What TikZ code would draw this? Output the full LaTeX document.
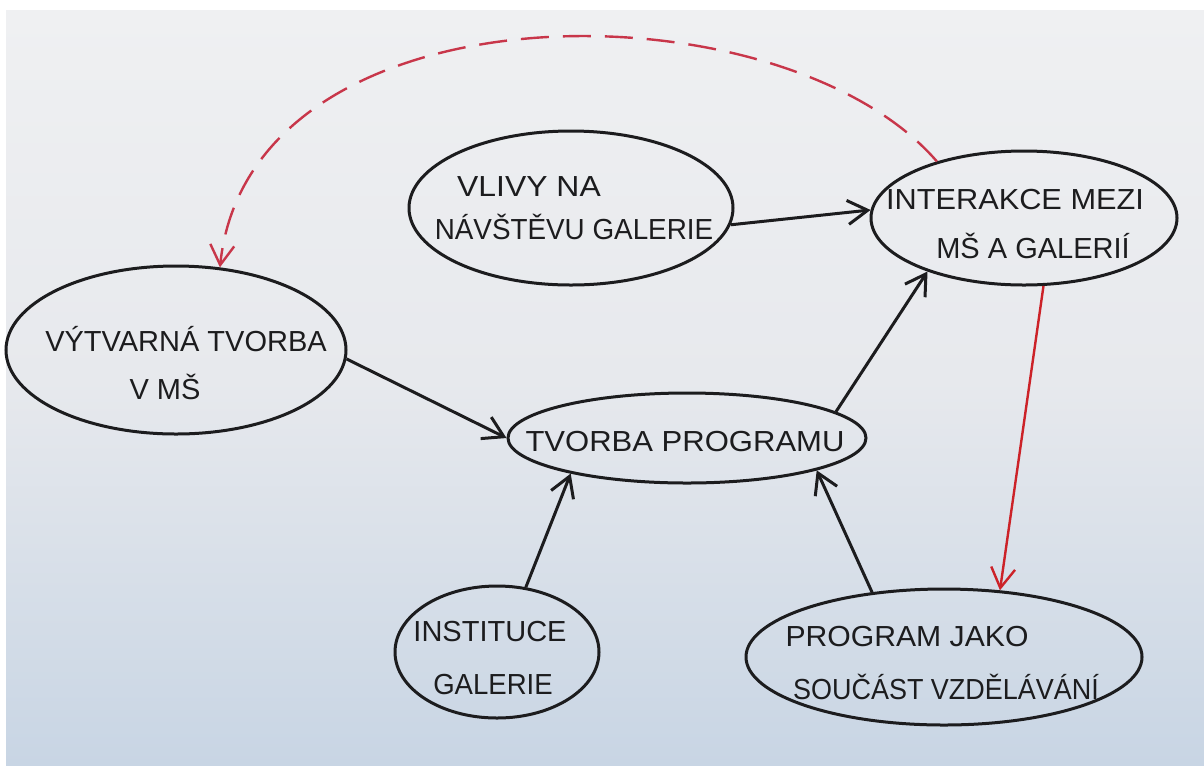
\documentclass[tikz,border=0pt]{standalone}
\usepackage{fontspec}
\usepackage{graphicx}
\setmainfont{Liberation Sans}
\usetikzlibrary{shapes.geometric,arrows.meta}
\definecolor{inkc}{HTML}{1C1C1E}
\definecolor{redc}{HTML}{CC2228}
\definecolor{dashc}{HTML}{C8364A}
\definecolor{papertop}{HTML}{EFF0F2}
\definecolor{papermid}{HTML}{E7E9ED}
\definecolor{paperbot}{HTML}{C8D5E4}
\newcommand{\handfont}{\fontsize{14.5}{17}\selectfont}
\newcommand{\hsc}[2]{\scalebox{#1}[1]{#2}}
\tikzset{
  bubble/.style={ellipse, draw=inkc, line width=1.5pt, inner sep=0pt},
  lbl/.style={anchor=base, font=\handfont, text=inkc, inner sep=0pt},
  arr/.style={draw=inkc, line width=1.5pt, -{Straight Barb[length=10pt,width=12pt]}},
  redarr/.style={draw=redc, line width=1.2pt, -{Straight Barb[length=10pt,width=12pt]}},
  reddash/.style={draw=dashc, line width=1.2pt, dash pattern=on 14pt off 7pt, -{Straight Barb[length=10pt,width=12pt]}}
}
\begin{document}
\begin{tikzpicture}[x=0.5pt,y=-0.5pt]
\useasboundingbox (0,0) rectangle (1204,767);
\fill[white] (0,0) rectangle (1204,767);
\shade[top color=papertop, bottom color=papermid] (6,10) rectangle (1204,381);
\shade[top color=papermid, bottom color=paperbot] (6,380) rectangle (1204,765);

% bubbles
\node[bubble, minimum width=162pt, minimum height=77pt] (vlivy) at (571,208) {};
\node[bubble, minimum width=153pt, minimum height=67pt] (inter) at (1024,218) {};
\node[bubble, minimum width=170pt, minimum height=84pt] (vyt) at (176,350) {};
\node[bubble, minimum width=179pt, minimum height=45pt] (tvorba) at (687,438) {};
\node[bubble, minimum width=102pt, minimum height=66pt] (inst) at (497,652) {};
\node[bubble, minimum width=198pt, minimum height=68pt] (prog) at (944,657) {};

% labels
\node[lbl] (vlivyA) at (529,196) {\hsc{1.1}{VLIVY NA}};
\node[lbl] (vlivyB) at (574,239) {\hsc{0.96}{NÁVŠTĚVU GALERIE}};
\node[lbl] (interA) at (1015,209) {\hsc{1.06}{INTERAKCE MEZI}};
\node[lbl] (interB) at (1033,258) {MŠ A GALERIÍ};
\node[lbl] (vytA) at (186,351) {VÝTVARNÁ TVORBA};
\node[lbl] (vytB) at (165,399) {V MŠ};
\node[lbl] (tvorbaA) at (685,451) {\hsc{1.07}{TVORBA PROGRAMU}};
\node[lbl] (instA) at (490,641) {INSTITUCE};
\node[lbl] (instB) at (493,694) {\hsc{0.95}{GALERIE}};
\node[lbl] (progA) at (907,646) {\hsc{1.04}{PROGRAM JAKO}};
\node[lbl] (progB) at (946,699) {\hsc{0.93}{SOUČÁST VZDĚLÁVÁNÍ}};

% connectors
\draw[arr] (vlivy.-6) -- (inter.177);
\draw[arr] (vyt.-3) -- (tvorba.180);
\draw[arr] (tvorba.10) -- (inter.209);
\draw[arr] (inst.66) -- (tvorba.197);
\draw[arr] (prog.138) -- (tvorba.-14);
\draw[redarr] (inter.-74) -- (prog.50);
\draw[reddash] (inter.147) .. controls (780,-20) and (250,-20) .. (vyt.62);
\end{tikzpicture}
\end{document}
